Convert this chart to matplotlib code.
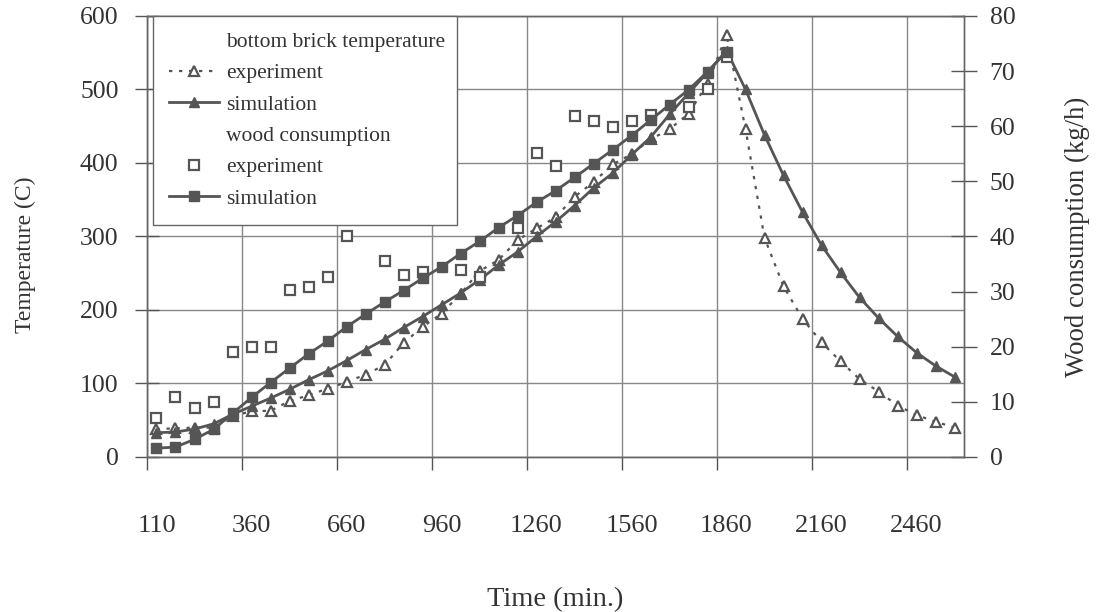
import numpy as np
import matplotlib
matplotlib.use('Agg')
import matplotlib.pyplot as plt
from matplotlib.lines import Line2D

plt.rcParams['font.family'] = ['Liberation Serif', 'DejaVu Serif']
plt.rcParams['text.color'] = '#333333'
plt.rcParams['axes.labelcolor'] = '#333333'
plt.rcParams['xtick.color'] = '#555555'
plt.rcParams['ytick.color'] = '#555555'
plt.rcParams['xtick.labelcolor'] = '#333333'
plt.rcParams['ytick.labelcolor'] = '#333333'

nan = np.nan
# category axis: 43 samples, every 5th one labelled
tick_labels = ['110', '360', '660', '960', '1260', '1560', '1860', '2160', '2460']

temp_exp = [38, 39, 40, 40, 56, 62, 63, 76, 84, 93,
            102, 112, 125, 155, 177, 195, 222, 253, 268, 295,
            311, 326, 354, 374, 398, 412, 432, 446, 467, 508,
            574, 446, 298, 232, 188, 156, 130, 106, 89, 70,
            57, 48, 40]
temp_sim = [33, 34, 38, 45, 58, 69, 80, 92, 105, 117,
            131, 146, 160, 176, 191, 207, 223, 241, 261, 279,
            300, 320, 342, 366, 386, 411, 435, 466, 495, 523,
            553, 500, 438, 383, 333, 288, 251, 217, 189, 164,
            142, 124, 109]
wood_exp = [7.0, 10.9, 8.9, 10.0, 19.0, 20.0, 20.0, 30.3, 30.9, 32.6,
            40.1, nan, 35.6, 33.0, 33.6, nan, 33.9, 32.6, nan, 41.5,
            55.2, 52.7, 61.9, 61.0, 59.9, 61.0, 62.0, nan, 63.5, 66.7,
            72.5]
wood_sim = [1.6, 1.8, 3.2, 5.0, 7.9, 10.8, 13.5, 16.1, 18.7, 21.0,
            23.6, 25.9, 28.1, 30.2, 32.4, 34.5, 36.9, 39.1, 41.6, 43.8,
            46.2, 48.3, 50.7, 53.2, 55.7, 58.3, 61.1, 63.9, 66.6, 69.9,
            73.5]

x_t = np.arange(len(temp_sim))
x_w = np.arange(len(wood_sim))
c = '#555555'

fig = plt.figure(figsize=(10.97, 6.12), dpi=100)
ax = fig.add_axes([0.134, 0.2533, 0.7448, 0.7206])
ax2 = ax.twinx()

ax.plot(x_t, temp_exp, linestyle=(0, (1.5, 3)), color=c, lw=1.6,
        marker='^', ms=7, mfc='white', mec=c, mew=1.6)
ax.plot(x_t, temp_sim, '-', color=c, lw=2, marker='^', ms=7.5, mfc=c, mec=c)
ax2.plot(x_w, wood_exp, linestyle='none', marker='s', ms=7, mfc='white', mec=c, mew=1.6)
ax2.plot(x_w, wood_sim, '-', color=c, lw=2, marker='s', ms=7, mfc=c, mec=c)

ax.set_xlim(-0.5, 42.5)
ax.set_ylim(0, 600)
ax2.set_ylim(0, 80)

bounds = np.arange(-0.5, 40, 5)
ax.set_xticks(bounds)
ax.set_xticklabels([''] * len(bounds))
ax.set_xticks(np.arange(0, 41, 5), minor=True)
ax.set_xticklabels(tick_labels, minor=True)
ax.tick_params(axis='x', which='major', direction='out', length=9, width=1)
ax.tick_params(axis='x', which='minor', length=0, pad=42, labelsize=19)
ax.set_yticks(np.arange(0, 601, 100))
ax.tick_params(axis='y', direction='inout', length=17, width=1, pad=12, labelsize=18.5)
ax2.set_yticks(np.arange(0, 81, 10))
ax2.tick_params(axis='y', direction='inout', length=19, width=1, pad=9, labelsize=18.5)

ax.grid(True, which='major', color='#888888', lw=1)
for a in (ax, ax2):
    for s in a.spines.values():
        s.set_color('#666666')
        s.set_linewidth(1)

ax.set_xlabel('Time (min.)', fontsize=20.5)
ax.xaxis.set_label_coords(0.5, -0.295)
ax.set_ylabel('Temperature (C)', fontsize=17)
ax.yaxis.set_label_coords(-0.136, 0.458)
ax2.set_ylabel('Wood consumption (kg/h)', fontsize=19.3)
ax2.yaxis.set_label_coords(1.123, 0.499)

blank = Line2D([], [], linestyle='none')
handles = [
    blank,
    Line2D([], [], linestyle=(0, (1.5, 3)), color=c, lw=1.6, marker='^', ms=7, mfc='white', mec=c, mew=1.6),
    Line2D([], [], color=c, lw=2, marker='^', ms=7.5, mfc=c, mec=c),
    blank,
    Line2D([], [], linestyle='none', marker='s', ms=7, mfc='white', mec=c, mew=1.6),
    Line2D([], [], color=c, lw=2, marker='s', ms=7, mfc=c, mec=c),
]
labels = ['bottom brick temperature', 'experiment', 'simulation',
          'wood consumption', 'experiment', 'simulation']
leg = ax2.legend(handles, labels, loc='upper left', bbox_to_anchor=(0.0073, 1.0, 0.372, 0.0),
                 mode='expand', fontsize=15.5, frameon=True, fancybox=False, framealpha=1,
                 edgecolor='#666666', borderpad=0.75, labelspacing=0.52,
                 handlelength=2.3, handletextpad=0.35, borderaxespad=0)
leg.get_frame().set_linewidth(1)

fig.savefig('out.png', dpi=100)
